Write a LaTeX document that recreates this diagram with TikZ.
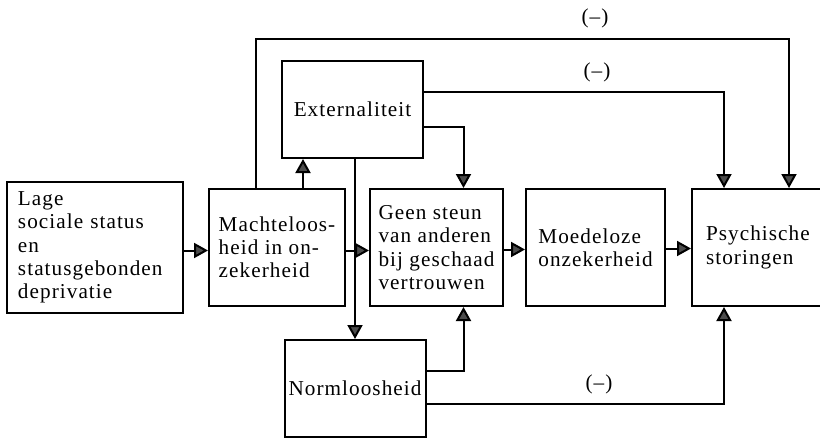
\documentclass[tikz,border=0pt]{standalone}
\usepackage{fontspec}
\setmainfont{Liberation Serif}[LetterSpace=5]
\usetikzlibrary{arrows.meta}
\begin{document}
\begin{tikzpicture}[x=0.5pt,y=-0.5pt,
  box/.style={draw, line width=1pt, inner sep=0pt, align=left,
    font=\fontsize{10.6}{11.6}\selectfont},
  link/.style={line width=1pt,
    -{Triangle[width=7.5pt,length=7pt,fill=black!70]}},
  sign/.style={font=\fontsize{10.6}{12}\selectfont}]
\useasboundingbox (0,0) rectangle (820,439);

% boxes
\node[box, minimum width=88pt, minimum height=65.5pt, text width=77pt] (lage) at (95,247.5)
  {Lage\\sociale status\\en\\statusgebonden\\deprivatie};
\node[box, minimum width=68pt, minimum height=58.5pt] (mach) at (277,247.5)
  {Machteloos-\\heid in on-\\zekerheid};
\node[box, minimum width=70.5pt, minimum height=48.5pt] (ext) at (352.5,109.5)
  {Externaliteit};
\node[box, minimum width=66.5pt, minimum height=58.5pt] (geen) at (436.5,247.5)
  {Geen steun\\van anderen\\bij geschaad\\vertrouwen};
\node[box, minimum width=69.5pt, minimum height=58.5pt] (moed) at (595.5,247.5)
  {Moedeloze\\onzekerheid};
\node[box, minimum width=66pt, minimum height=58.5pt, text width=52pt] (psych) at (758,247.5)
  {Psychische\\storingen};
\node[box, minimum width=70.5pt, minimum height=48.5pt] (norm) at (355,388.5)
  {Normloosheid};

% attachment points
\coordinate (laneA) at (0,39);
\path ([xshift=13pt]mach.north) coordinate (machUp);
\path ([xshift=-10.5pt]mach.north) coordinate (machLoop);
\path ([xshift=15.5pt]psych.north) coordinate (psychTop);
\path ([xshift=-17pt]psych.north) coordinate (psychIn);
\path ([xshift=-17pt]psych.south) coordinate (psychUp);
\path ([yshift=8.75pt]ext.east) coordinate (extHi);
\path ([yshift=-8.75pt]ext.east) coordinate (extLo);
\path ([xshift=13.5pt]geen.north) coordinate (geenIn);
\path ([xshift=13.5pt]geen.south) coordinate (geenUp);
\path ([yshift=8.75pt]norm.east) coordinate (normHi);
\path ([yshift=-7.75pt]norm.east) coordinate (normLo);

% main chain
\draw[link] ([yshift=-1.5pt]lage.east) -- ([yshift=-1.5pt]mach.west);
\draw[link] ([yshift=-1.5pt]mach.east) -- ([yshift=-1.5pt]geen.west);
\draw[link] ([yshift=-1pt]geen.east) -- ([yshift=-1pt]moed.west);
\draw[link] ([yshift=-0.5pt]moed.east) -- ([yshift=-0.5pt]psych.west);

% side paths
\draw[link] (machUp) -- (machUp |- ext.south);
\draw[link] (machLoop) -- (machLoop |- laneA) -| (psychTop);
\draw[link] (extHi) -| (psychIn);
\draw[link] (extLo) -| (geenIn);
\draw[link] (ext.south -| norm.north) -- (norm.north);
\draw[link] (normHi) -| (geenUp);
\draw[link] (normLo) -| (psychUp);

% signs
\node[sign] (s1) at (595,18) {(–)};
\node[sign] (s2) at (597,72) {(–)};
\node[sign] (s3) at (599,384) {(–)};
\end{tikzpicture}
\end{document}
